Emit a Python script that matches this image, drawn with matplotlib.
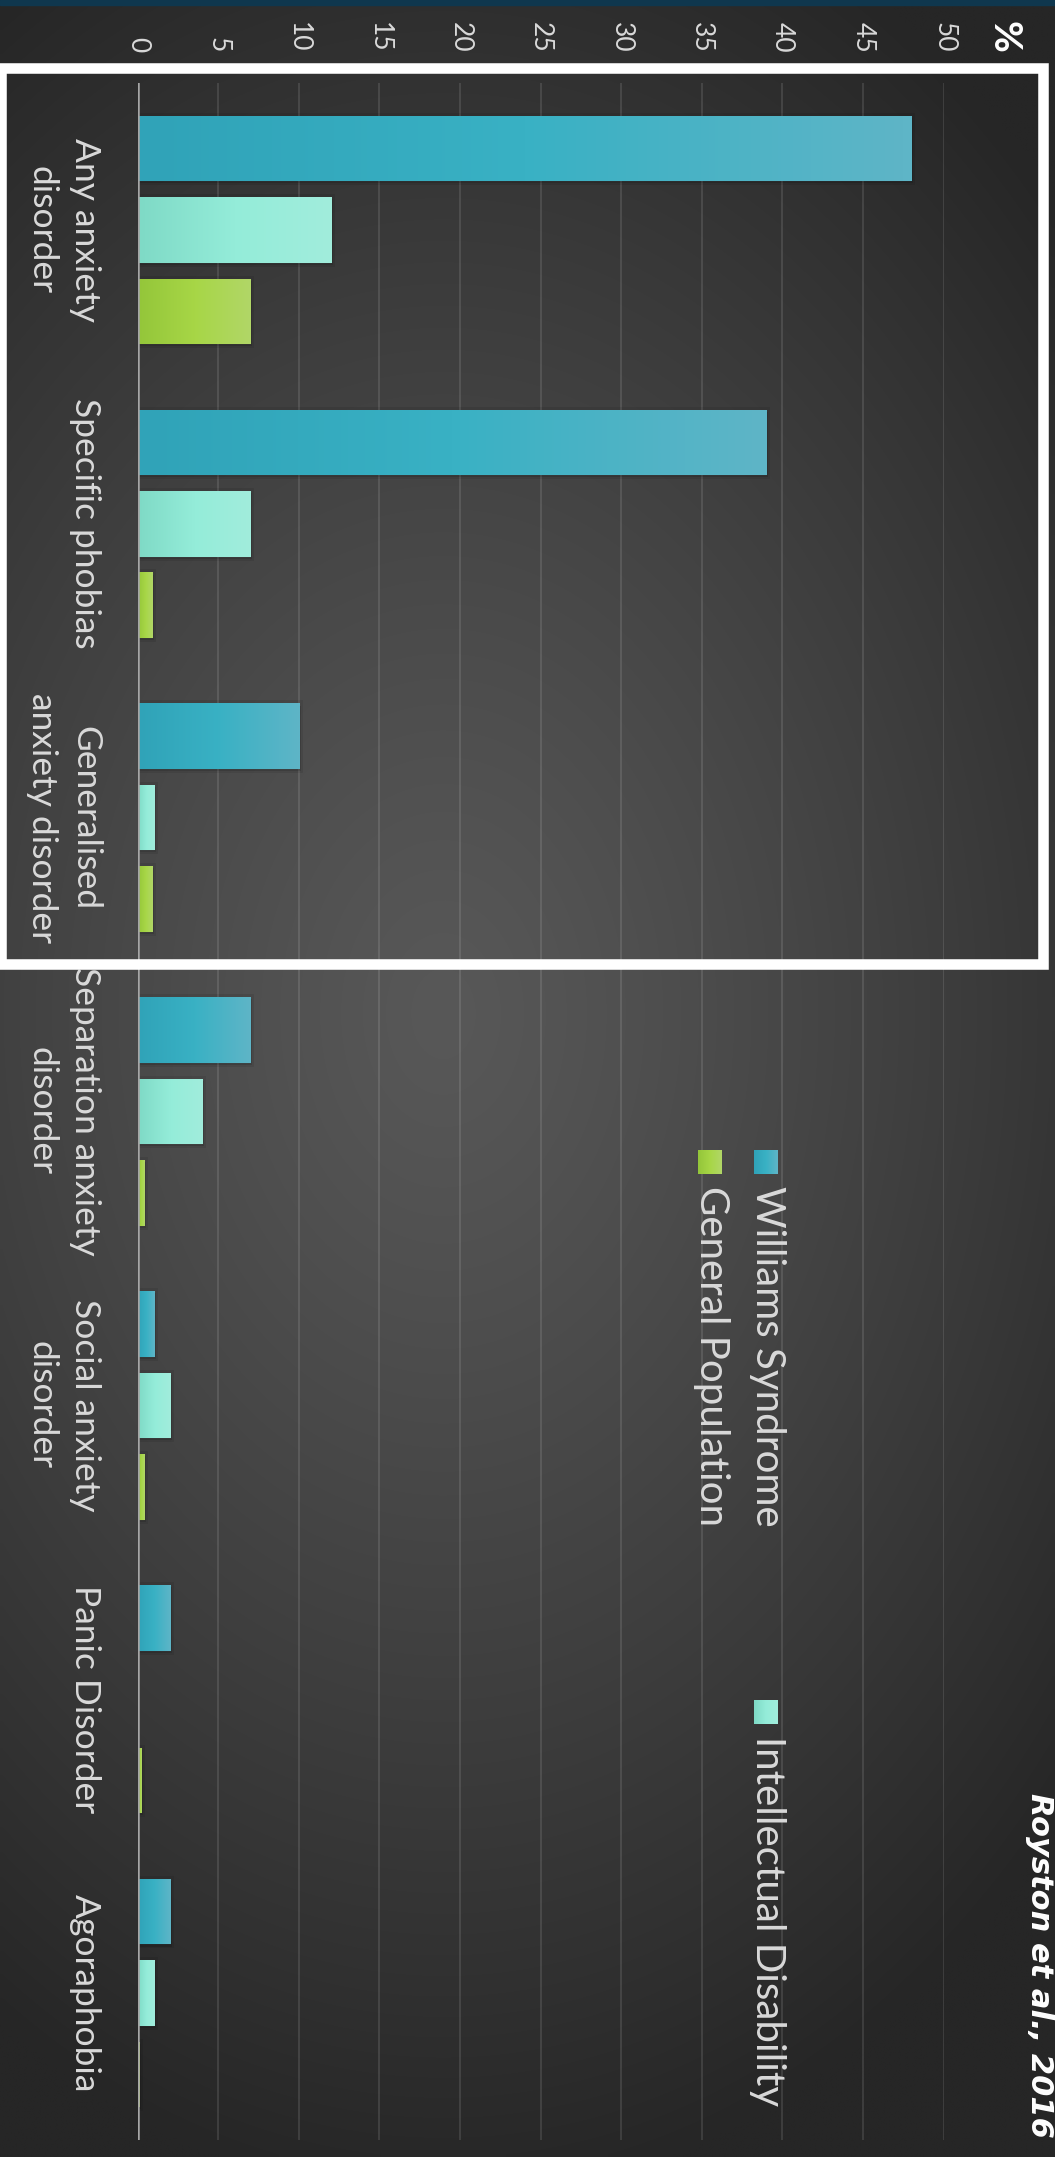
import numpy as np
import matplotlib
matplotlib.use('Agg')
import matplotlib.pyplot as plt
import matplotlib.patheffects as pe
from matplotlib.colors import LinearSegmentedColormap
from matplotlib.patches import Rectangle

# anxiety prevalence (%) by group
categories = ['Any anxiety\ndisorder', 'Specific phobias', 'Generalised\nanxiety disorder',
              'Separation anxiety\ndisorder', 'Social anxiety\ndisorder', 'Panic Disorder', 'Agoraphobia']
williams = [48, 39, 10, 7, 1, 2, 2]
intellectual = [12, 7, 1, 4, 2, 0, 1]
general = [7, 0.9, 0.9, 0.4, 0.4, 0.2, 0.1]
series_names = ['Williams Syndrome', 'Intellectual Disability', 'General Population']
value_ticks = list(range(0, 51, 5))

# bar colour ramps (base -> middle -> tip)
ramps = [['#30a3b8', '#39b1c4', '#5eb5c7'],
         ['#7fdac6', '#94ecd9', '#a1eddc'],
         ['#94c63a', '#a7d646', '#b1d767']]

W, H = 1055, 2157
plt.rcParams['font.family'] = ['Lato', 'DejaVu Sans']

fig = plt.figure(figsize=(W / 100, H / 100), dpi=100, facecolor='#2a2a2a')

# slide background: soft radial glow
bg = fig.add_axes([0, 0, 1, 1], zorder=0)
yy, xx = np.mgrid[0:1:400j, 0:1:200j]
d = np.clip(np.sqrt(((xx - 0.42) / 0.8) ** 2 + ((yy - 0.47) / 0.55) ** 2), 0, 1)
c0 = np.array([0x58, 0x58, 0x58]) / 255
c1 = np.array([0x26, 0x26, 0x26]) / 255
bg.imshow(c0 + (c1 - c0) * d[..., None] ** 1.2, extent=[0, W, H, 0], aspect='auto',
          interpolation='bilinear')
bg.set_xlim(0, W)
bg.set_ylim(H, 0)
bg.axis('off')

# main chart, drawn turned on its side
ax = fig.add_axes([137.5 / W, 1 - 2140 / H, (943.6 - 137.5) / W, (2140 - 83) / H], zorder=1)
ax.set_facecolor('none')
pos = np.arange(len(categories))
bar_h, off = 0.223, 0.277

for v in value_ticks[1:]:
    ax.axvline(v, color='white', alpha=0.13, lw=1.2, zorder=1)

for i, (vals, ramp) in enumerate(zip([williams, intellectual, general], ramps)):
    cmap = LinearSegmentedColormap.from_list('ramp%d' % i, ramp)
    bars = ax.barh(pos + (i - 1) * off, vals, height=bar_h, color=ramp[1], zorder=3)
    for b, v in zip(bars, vals):
        if v <= 0:
            continue
        b.set_path_effects([pe.SimplePatchShadow(offset=(1.5, -1.5), shadow_rgbFace='black', alpha=0.12),
                            pe.Stroke(linewidth=5, foreground='black', alpha=0.08), pe.Normal()])
        x0, y0 = b.get_x(), b.get_y()
        im = ax.imshow(np.linspace(0, 1, 64)[None, :], cmap=cmap, aspect='auto',
                       extent=[x0, x0 + b.get_width(), y0 + b.get_height(), y0],
                       interpolation='bilinear', zorder=4)
        im.set_clip_path(b)

ax.axvline(0, color='#a6a6a6', lw=1.8, zorder=5)
ax.set_xlim(0, 50)
ax.set_ylim(len(categories) - 0.5, -0.5)

ax.xaxis.tick_top()
ax.set_xticks(value_ticks)
ax.set_xticklabels([str(v) for v in value_ticks], rotation=-90, color='#d9d9d9', fontsize=19)
ax.tick_params(axis='x', length=0, pad=22)
ax.set_yticks([])
for s in ax.spines.values():
    s.set_visible(False)

for p, lab in zip(pos, categories):
    ax.text(-0.045, p, lab, transform=ax.get_yaxis_transform(), rotation=-90,
            ha='right', va='center', multialignment='center', fontsize=25.5,
            linespacing=1.45, color='#d9d9d9', clip_on=False)

# overlay: frame, legend, labels
ov = fig.add_axes([0, 0, 1, 1], zorder=2)
ov.set_xlim(0, W)
ov.set_ylim(H, 0)
ov.axis('off')
ov.patch.set_alpha(0)

ov.add_patch(Rectangle((0, 0), W, 5, color='#0f374e'))
ov.add_patch(Rectangle((1, 67.5), 1042, 896, fill=False, ec='white', lw=7.6))
ov.text(1004, 53, '%', rotation=-90, ha='center', va='bottom', fontsize=28,
        fontweight='bold', color='white')

legend_spots = [(754, 1150, 786), (754, 1700, 786), (698, 1150, 730)]
for name, ramp, (mx, my, tx) in zip(series_names, ramps, legend_spots):
    cmap = LinearSegmentedColormap.from_list(name, ramp)
    ov.imshow(np.linspace(0, 1, 32)[None, :], cmap=cmap, aspect='auto',
              extent=[mx, mx + 24, my + 24, my], interpolation='bilinear')
    ov.text(tx, my + 36, name, rotation=-90, ha='right', va='top', fontsize=29,
            color='#d9d9d9')
ov.set_xlim(0, W)
ov.set_ylim(H, 0)

ov.text(1054, 1793, 'Royston et al., 2016', rotation=-90, ha='right', va='top',
        fontsize=22, fontweight='bold', style='italic', color='white',
        family=['DejaVu Sans'])

fig.savefig('out.png', dpi=100, facecolor=fig.get_facecolor())
